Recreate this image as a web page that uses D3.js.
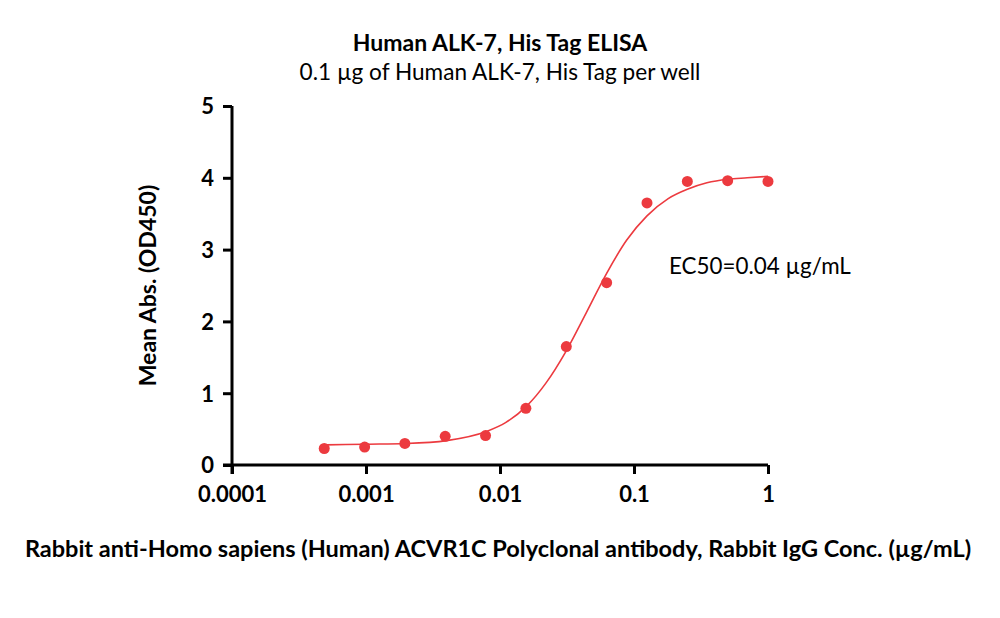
<!DOCTYPE html>
<meta charset="utf-8">
<script src="https://d3js.org/d3.v7.min.js"></script>
<style>
  body { margin: 0; background: #fff; }
  text { font-family: Lato, "Open Sans", sans-serif; fill: #000; }
</style>
<div id="my_dataviz"></div>
<script>

// measured points (2-fold dilutions)
var conc = [0.000488, 0.000977, 0.00195, 0.0039, 0.0078, 0.0156, 0.03125, 0.0625, 0.125, 0.25, 0.5, 1];
var od = [0.23, 0.25, 0.30, 0.40, 0.41, 0.79, 1.65, 2.54, 3.65, 3.95, 3.96, 3.95];

// fitted curve
var fitConc = [0.0005, 0.001, 0.002, 0.004, 0.008, 0.011, 0.016, 0.022, 0.031, 0.044, 0.0625, 0.088, 0.125, 0.18, 0.25, 0.35, 0.5, 0.7, 1];
var fitOd = [0.28, 0.29, 0.30, 0.34, 0.47, 0.59, 0.83, 1.14, 1.58, 2.12, 2.67, 3.13, 3.47, 3.71, 3.84, 3.93, 3.98, 4.00, 4.02];

var xTicks = [0.0001, 0.001, 0.01, 0.1, 1];
var xTickLabels = ["0.0001", "0.001", "0.01", "0.1", "1"];
var yTicks = [0, 1, 2, 3, 4, 5];

var W = 1000, H = 618;
var red = "#ec3a3f";

var svg = d3.select("#my_dataviz")
  .append("svg")
    .attr("width", W)
    .attr("height", H);

var x = d3.scaleLog()
  .domain([0.0001, 1])
  .range([232, 768]);

var y = d3.scaleLinear()
  .domain([0, 5])
  .range([465, 106]);

// X axis
var xAxis = svg.append("g")
  .attr("transform", "translate(0," + y(0) + ")")
  .call(d3.axisBottom(x)
    .tickValues(xTicks)
    .tickFormat(function(d, i) { return xTickLabels[i]; })
    .tickSize(9)
    .tickPadding(12)
    .tickSizeOuter(0));

xAxis.select(".domain")
  .attr("d", "M" + (x(0.0001) - 9) + ",0H" + x(1));

// Y axis
var yAxis = svg.append("g")
  .attr("transform", "translate(" + x(0.0001) + ",0)")
  .call(d3.axisLeft(y)
    .tickValues(yTicks)
    .tickFormat(d3.format("d"))
    .tickSize(9)
    .tickPadding(9)
    .tickSizeOuter(0));

yAxis.select(".domain")
  .attr("d", "M0," + y(5) + "V" + (y(0) + 9));

svg.selectAll(".domain, .tick line")
  .attr("stroke", "#000")
  .attr("stroke-width", 3);

svg.selectAll(".tick text")
  .style("font-size", "22px")
  .style("font-weight", "bold");

yAxis.selectAll(".tick text").attr("dy", "0.36em");

// fit line
var line = d3.line()
  .x(function(d) { return x(d[0]); })
  .y(function(d) { return y(d[1]); })
  .curve(d3.curveMonotoneX);

svg.append("path")
  .datum(d3.zip(fitConc, fitOd))
  .attr("fill", "none")
  .attr("stroke", red)
  .attr("stroke-width", 1.6)
  .attr("d", line);

// points
svg.selectAll("circle.pt")
  .data(d3.zip(conc, od))
  .enter()
  .append("circle")
    .attr("class", "pt")
    .attr("cx", function(d) { return x(d[0]); })
    .attr("cy", function(d) { return y(d[1]); })
    .attr("r", 5.5)
    .attr("fill", red);

// titles
svg.append("text")
  .attr("x", 500).attr("y", 51)
  .attr("text-anchor", "middle")
  .style("font-size", "23px").style("font-weight", "bold")
  .text("Human ALK-7, His Tag ELISA");

svg.append("text")
  .attr("x", 500).attr("y", 80)
  .attr("text-anchor", "middle")
  .style("font-size", "22.6px")
  .text("0.1 µg of Human ALK-7, His Tag per well");

svg.append("text")
  .attr("x", 498).attr("y", 557)
  .attr("text-anchor", "middle")
  .style("font-size", "23.5px").style("font-weight", "bold")
  .text("Rabbit anti-Homo sapiens (Human) ACVR1C Polyclonal antibody, Rabbit IgG Conc. (µg/mL)");

svg.append("text")
  .attr("transform", "translate(156," + y(2.5) + ") rotate(-90)")
  .attr("text-anchor", "middle")
  .style("font-size", "23px").style("font-weight", "bold")
  .text("Mean Abs. (OD450)");

svg.append("text")
  .attr("x", 669).attr("y", 274)
  .style("font-size", "22.4px")
  .text("EC50=0.04 µg/mL");

</script>
